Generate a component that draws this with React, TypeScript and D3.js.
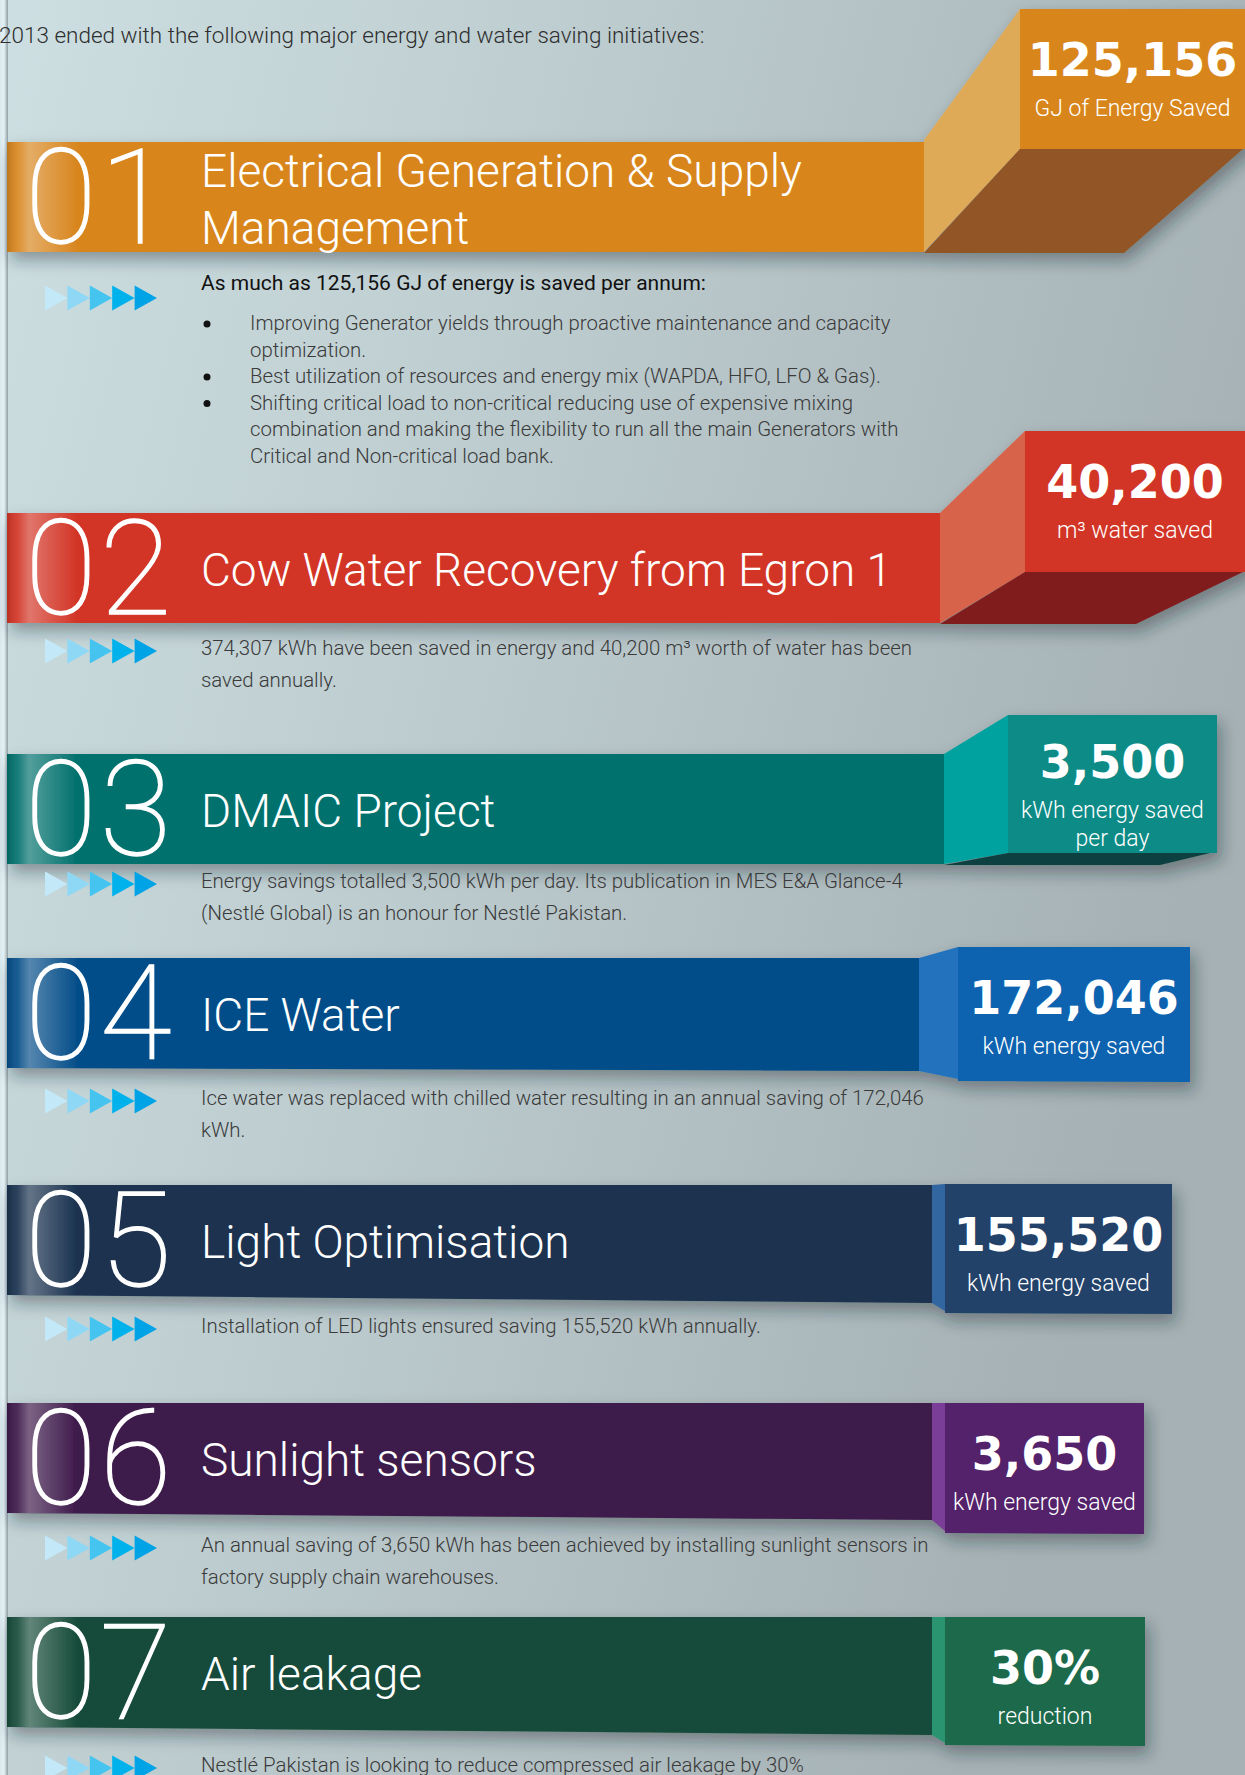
import React from 'react';
import * as d3 from 'd3';

const W = 1245;
const H = 1775;

// ---- content ----
const introText = '2013 ended with the following major energy and water saving initiatives:';
const sectionNumbers = ['01', '02', '03', '04', '05', '06', '07'];
const sectionTitles = [
  ['Electrical Generation & Supply', 'Management'],
  ['Cow Water Recovery from Egron 1'],
  ['DMAIC Project'],
  ['ICE Water'],
  ['Light Optimisation'],
  ['Sunlight sensors'],
  ['Air leakage'],
];
const statValues = ['125,156', '40,200', '3,500', '172,046', '155,520', '3,650', '30%'];
const statLabels = [
  ['GJ of Energy Saved'],
  ['m³ water saved'],
  ['kWh energy saved', 'per day'],
  ['kWh energy saved'],
  ['kWh energy saved'],
  ['kWh energy saved'],
  ['reduction'],
];
const leadLine = 'As much as 125,156 GJ of energy is saved per annum:';
const bulletLines = [
  ['Improving Generator yields through proactive maintenance and capacity', 'optimization.'],
  ['Best utilization of resources and energy mix (WAPDA, HFO, LFO & Gas).'],
  [
    'Shifting critical load to non-critical reducing use of expensive mixing',
    'combination and making the flexibility to run all the main Generators with',
    'Critical and Non-critical load bank.',
  ],
];
const descriptions = [
  [],
  ['374,307 kWh have been saved in energy and 40,200 m³ worth of water has been', 'saved annually.'],
  ['Energy savings totalled 3,500 kWh per day. Its publication in MES E&A Glance-4', '(Nestlé Global) is an honour for Nestlé Pakistan.'],
  ['Ice water was replaced with chilled water resulting in an annual saving of 172,046', 'kWh.'],
  ['Installation of LED lights ensured saving 155,520 kWh annually.'],
  ['An annual saving of 3,650 kWh has been achieved by installing sunlight sensors in', 'factory supply chain warehouses.'],
  ['Nestlé Pakistan is looking to reduce compressed air leakage by 30%'],
];

// ---- colours ----
const barColors = ['#d8861f', '#d23526', '#02716d', '#054e89', '#1a324f', '#3e1a4b', '#174c3a'];
const faceColors = ['#d8861f', '#d23526', '#0b8b87', '#0763b0', '#21436b', '#53226a', '#1e6a4b'];
const sideColors = ['#dfaa58', '#d8634b', '#02a29f', '#2472bd', '#3066a0', '#7a3e98', '#2b9470'];
const bottomColors = ['#925727', '#811b1c', '#0c403f', null, null, null, null];
const arrowColors = ['#c3e9f9', '#8fd8f5', '#45c4f0', '#00b2ec', '#00a3e6'];

// ---- layout ----
const barLeft = 7;
const barHeight = 110;
const barTops = [142, 513, 754, 958, 1185, 1403, 1617];
const barRights = [924, 940, 944, 919, 932, 932, 932];
const barDrops = [0, 0, 0, 3, 8, 7, 8];
const faceLefts = [1020, 1025, 1008, 958, 945, 945, 945];
const faceRights = [1250, 1250, 1217, 1190, 1172, 1144, 1145];
const faceTops = [9, 431, 715, 947, 1184, 1403, 1617];
const faceBottoms = [149, 572, 853, 1081, 1313, 1533, 1745];
const bottomRights = [1124, 1136, 1160, 0, 0, 0, 0];
const descBaselines = [290, 655, 888, 1105, 1333, 1552, 1772];

const barTop = d3.scaleOrdinal<string, number>().domain(sectionNumbers).range(barTops);
const line = d3.line<[number, number]>();
const poly = (pts: [number, number][]) => line(pts) + 'Z';

const LIGHT = 'Roboto, "Open Sans", sans-serif';
const BOLD = '"DejaVu Sans", sans-serif';
const BODY_SIZE = 20.4;

function Arrows({ y }: { y: number }) {
  const x = d3.scaleLinear().domain([0, 5]).range([45, 157]);
  return (
    <g>
      {arrowColors.map((c, i) => (
        <path key={i} d={poly([[x(i), y - 12.5], [x(i + 1), y], [x(i), y + 12.5]])} fill={c} />
      ))}
    </g>
  );
}

function Section({ i }: { i: number }) {
  const id = sectionNumbers[i];
  const top = barTop(id);
  const bottom = top + barHeight;
  const right = barRights[i];
  const drop = barDrops[i];
  const fl = faceLefts[i];
  const fr = faceRights[i];
  const ft = faceTops[i];
  const fb = faceBottoms[i];
  const cx = (fl + Math.min(fr, W)) / 2;
  const labels = statLabels[i];
  const valueY = ft + (labels.length > 1 ? 63 : 67);
  return (
    <g>
      <g filter="url(#shadow)">
        <path d={poly([[barLeft, top], [right, top], [right, bottom + drop], [barLeft, bottom]])} fill={barColors[i]} />
        <path d={poly([[right, top - (i === 0 ? 2 : 0)], [fl, ft], [fl, fb - (bottomColors[i] ? 0 : 2)], [right, bottom + drop]])} fill={sideColors[i]} />
        <path d={poly([[fl, ft], [fr, ft], [fr, fb + (i > 2 ? 1 : 0)], [fl, fb]])} fill={faceColors[i]} />
        {bottomColors[i] && (
          <path d={poly([[fl, fb], [fr - 7, fb], [bottomRights[i], bottom + 1], [right, bottom + 1]])} fill={bottomColors[i] as string} />
        )}
        <rect x={barLeft} y={top} width={70} height={barHeight} fill="url(#barGloss)" />
      </g>
      <text x={25} y={top + 101} fill="#fff" stroke="#fff" strokeWidth={1.3} fontFamily={LIGHT} fontWeight={100} fontSize={131} letterSpacing={3}>
        {id}
      </text>
      {sectionTitles[i].length === 1 ? (
        <text x={201} y={top + 73} fill="#fff" fontFamily={LIGHT} fontWeight={300} fontSize={46}>
          {sectionTitles[i][0]}
        </text>
      ) : (
        sectionTitles[i].map((t, k) => (
          <text key={k} x={201} y={top + 45 + k * 57} fill="#fff" fontFamily={LIGHT} fontWeight={300} fontSize={46}>
            {t}
          </text>
        ))
      )}
      <text x={cx} y={valueY} textAnchor="middle" fill="#fff" fontFamily={BOLD} fontWeight={700} fontSize={46}>
        {statValues[i]}
      </text>
      {labels.map((t, k) => (
        <text key={k} x={cx} y={valueY + 40 + k * 28} textAnchor="middle" fill="#fff" fontFamily={LIGHT} fontWeight={300} fontSize={23}>
          {t}
        </text>
      ))}
      {i === 0 ? (
        <g>
          <Arrows y={298} />
          <text x={201} y={descBaselines[0]} fill="#111" fontFamily={LIGHT} fontWeight={400} fontSize={21}>
            {leadLine}
          </text>
          {bulletLines.map((b, k) => {
            const before = bulletLines.slice(0, k).reduce((s, a) => s + a.length, 0);
            return (
              <g key={k}>
                <circle cx={207} cy={descBaselines[0] + 34 + before * 26.5} r={3.5} fill="#111" />
                {b.map((t, m) => (
                  <text key={m} x={250} y={descBaselines[0] + 40 + (before + m) * 26.5} fill="#3a3a3a" fontFamily={LIGHT} fontWeight={300} fontSize={BODY_SIZE}>
                    {t}
                  </text>
                ))}
              </g>
            );
          })}
        </g>
      ) : (
        <g>
          <Arrows y={descBaselines[i] - 4} />
          {descriptions[i].map((t, k) => (
            <text key={k} x={201} y={descBaselines[i] + k * 32} fill="#3a3a3a" fontFamily={LIGHT} fontWeight={300} fontSize={BODY_SIZE}>
              {t}
            </text>
          ))}
        </g>
      )}
    </g>
  );
}

export default function App() {
  return (
    <svg width={W} height={H} viewBox={`0 0 ${W} ${H}`} style={{ position: 'absolute', left: 0, top: 0, display: 'block' }}>
      <defs>
        <linearGradient id="bg" x1="0" y1="0" x2="1" y2="0.35">
          <stop offset="0" stopColor="#cddfe2" />
          <stop offset="0.45" stopColor="#bccbce" />
          <stop offset="1" stopColor="#a5b1b4" />
        </linearGradient>
        <linearGradient id="edge" x1="0" y1="0" x2="1" y2="0">
          <stop offset="0" stopColor="#d9e9ee" />
          <stop offset="0.5" stopColor="#e4f1f5" />
          <stop offset="1" stopColor="#8f9ea3" />
        </linearGradient>
        <linearGradient id="barGloss" x1="0" y1="0" x2="1" y2="0">
          <stop offset="0" stopColor="#000" stopOpacity={0.12} />
          <stop offset="0.15" stopColor="#fff" stopOpacity={0.08} />
          <stop offset="0.32" stopColor="#fff" stopOpacity={0.32} />
          <stop offset="1" stopColor="#fff" stopOpacity={0} />
        </linearGradient>
        <filter id="shadow" x="-5%" y="-40%" width="115%" height="190%">
          <feDropShadow dx="4" dy="8" stdDeviation="8" floodColor="#1f2c32" floodOpacity={0.4} />
        </filter>
      </defs>
      <rect width={W} height={H} fill="url(#bg)" />
      <rect x={0} y={0} width={8} height={H} fill="url(#edge)" />
      <text x={-1} y={43} fill="#2e2e2e" fontFamily={LIGHT} fontWeight={300} fontSize={22.5}>
        {introText}
      </text>
      {sectionNumbers.map((_, i) => (
        <Section key={i} i={i} />
      ))}
    </svg>
  );
}
